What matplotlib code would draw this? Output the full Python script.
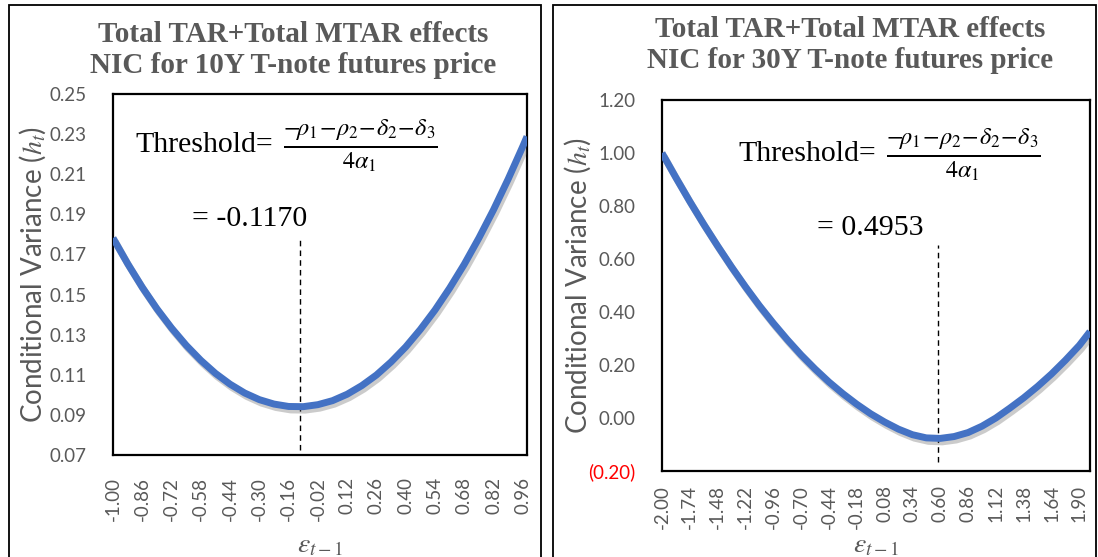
import matplotlib
matplotlib.use("Agg")
import matplotlib.pyplot as plt
import matplotlib.patheffects as pe
from matplotlib.patches import Rectangle

plt.rcParams['mathtext.fontset'] = 'stix'

# 10Y panel: shock e(t-1) vs conditional variance
eps_10y = [-1.00, -0.93, -0.86, -0.79, -0.72, -0.65, -0.58, -0.51, -0.44, -0.37,
           -0.30, -0.23, -0.16, -0.09, -0.02, 0.05, 0.12, 0.19, 0.26, 0.33,
           0.40, 0.47, 0.54, 0.61, 0.68, 0.75, 0.82, 0.89, 0.96, 0.98]
h_10y = [0.1782, 0.1654, 0.1536, 0.1429, 0.1333, 0.1247, 0.1172, 0.1107, 0.1053, 0.1009,
         0.0976, 0.0954, 0.0942, 0.0941, 0.0951, 0.0971, 0.1003, 0.1046, 0.1099, 0.1164,
         0.1239, 0.1326, 0.1423, 0.1532, 0.1651, 0.1782, 0.1923, 0.2076, 0.2239, 0.2288]
xticks_10y = [-1.00, -0.86, -0.72, -0.58, -0.44, -0.30, -0.16, -0.02, 0.12, 0.26,
              0.40, 0.54, 0.68, 0.82, 0.96]
yticks_10y = [0.07, 0.09, 0.11, 0.13, 0.15, 0.17, 0.19, 0.21, 0.23, 0.25]
thr_10y = -0.104

# 30Y panel
eps_30y = [-2.00, -1.87, -1.74, -1.61, -1.48, -1.35, -1.22, -1.09, -0.96, -0.83,
           -0.70, -0.57, -0.44, -0.31, -0.18, -0.05, 0.08, 0.21, 0.34, 0.47,
           0.60, 0.73, 0.86, 0.99, 1.12, 1.25, 1.38, 1.51, 1.64, 1.77, 1.90, 2.00]
h_30y = [1.000, 0.907, 0.817, 0.731, 0.649, 0.570, 0.495, 0.424, 0.358, 0.296,
         0.238, 0.185, 0.136, 0.092, 0.052, 0.016, -0.015, -0.042, -0.063, -0.075,
         -0.077, -0.070, -0.055, -0.031, 0.000, 0.037, 0.076, 0.119, 0.166, 0.218,
         0.274, 0.326]
xticks_30y = [-2.00, -1.74, -1.48, -1.22, -0.96, -0.70, -0.44, -0.18, 0.08, 0.34,
              0.60, 0.86, 1.12, 1.38, 1.64, 1.90]
yticks_30y = [-0.20, 0.00, 0.20, 0.40, 0.60, 0.80, 1.00, 1.20]
thr_30y = 0.583

W, H = 1098, 557
fig = plt.figure(figsize=(W / 100, H / 100), dpi=100)


def px(x0, y0, x1, y1):
    return [x0 / W, 1 - y1 / H, (x1 - x0) / W, (y1 - y0) / H]


# panel borders
for x0, x1 in [(9, 541), (553, 1096)]:
    fig.patches.append(Rectangle((x0 / W, -0.05), (x1 - x0) / W, 1.05 - 5 / H,
                                 transform=fig.transFigure, fill=False,
                                 edgecolor='black', linewidth=1.3))

grey = '#595959'
shadow = [pe.SimpleLineShadow(offset=(1.5, -2.5), shadow_color='#555555', alpha=0.3),
          pe.Normal()]
frac = r'$\frac{-\!\rho_1\!-\!\rho_2\!-\!\delta_2\!-\!\delta_3}{4\alpha_1}$'


def panel(rect, eps, h, xt, yt, ylim, xlim, thr, thr_y, yfmt, title, title_xy,
          txt_pos, val_text, val_pos, xlab_x, ylab_x, xpad):
    ax = fig.add_axes(rect)
    ax.plot(eps, h, color='#4472C4', linewidth=5, solid_capstyle='butt',
            solid_joinstyle='round', path_effects=shadow, zorder=3)
    ax.plot([thr, thr], thr_y, color='black', linestyle='--', linewidth=1.0,
            dashes=(4, 3), zorder=2)
    ax.set_xlim(xlim)
    ax.set_ylim(ylim)
    ax.set_xticks(xt)
    ax.set_xticklabels(['%.2f' % v for v in xt], rotation=90,
                       family='Lato', fontsize=13.5, color=grey)
    ax.set_yticks(yt)
    ax.set_yticklabels([yfmt(v) for v in yt], family='Lato', fontsize=13.5, color=grey)
    ax.tick_params(length=0)
    ax.tick_params(axis='x', pad=xpad)
    ax.tick_params(axis='y', pad=19)
    for s in ax.spines.values():
        s.set_linewidth(1.6)
        s.set_color('black')
    t = ax.text(txt_pos[0], txt_pos[1], 'Threshold=', transform=ax.transAxes,
                family='Liberation Serif', fontsize=21.5, va='center', ha='left')
    ax.annotate(frac, xy=(1, 0.47), xycoords=t, xytext=(7, 0),
                textcoords='offset points', fontsize=25, va='center', ha='left')
    ax.text(val_pos[0], val_pos[1], val_text, transform=ax.transAxes,
            family='Liberation Serif', fontsize=21.5, va='center', ha='left')
    fig.text(title_xy[0] / W, 1 - title_xy[1] / H, title, ha='center', va='center',
             family='Liberation Serif', fontweight='bold', fontsize=21,
             color=grey, linespacing=1.2)
    fig.text(xlab_x / W, 1 - 544 / H, r'$\varepsilon_{t-1}$', ha='center', va='center',
             fontsize=20, color=grey)
    fig.text(ylab_x / W, rect[1] + rect[3] / 2,
             r'Conditional Variance ($h_t$)', rotation=90, ha='center', va='center',
             family='Lato', fontsize=20, color=grey)
    return ax


panel(px(113, 94, 527, 455), eps_10y, h_10y, xticks_10y, yticks_10y, (0.07, 0.25),
      (-1.00, 0.98), thr_10y, (0.0725, 0.1775),
      lambda v: '%.2f' % v,
      'Total TAR+Total MTAR effects\nNIC for 10Y T-note futures price', (293, 50),
      (0.054, 0.86), '= -0.1170', (0.19, 0.655), 320, 33, 16)

ax2 = panel(px(662, 100, 1090, 471), eps_30y, h_30y, xticks_30y, yticks_30y, (-0.20, 1.20),
            (-2.00, 2.00), thr_30y, (-0.165, 0.653),
            lambda v: '(%.2f)' % abs(v) if v < 0 else '%.2f' % v,
            'Total TAR+Total MTAR effects\nNIC for 30Y T-note futures price', (850, 45),
            (0.178, 0.855), '= 0.4953', (0.361, 0.655), 876, 578, 10)
ax2.get_yticklabels()[0].set_color('red')

fig.savefig('out.png', dpi=100)
